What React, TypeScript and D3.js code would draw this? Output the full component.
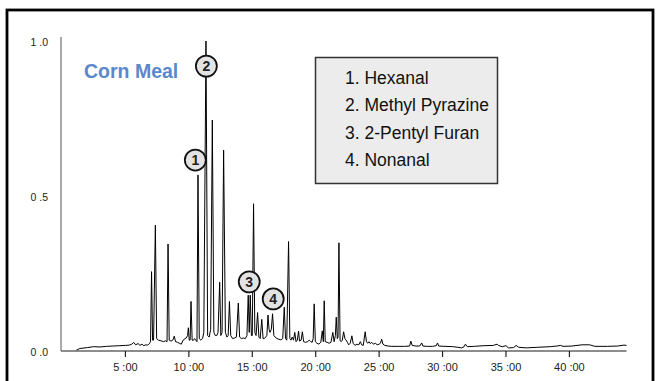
import { useEffect, useRef } from "react";
import * as d3 from "d3";

// retention time (min), relative intensity
const trace: [number, number][] = [
  [1.15, 0.003], [1.4, 0.008], [2.0, 0.011], [2.5, 0.014], [3.0, 0.013], [3.5, 0.015],
  [4.0, 0.016], [4.5, 0.017], [5.0, 0.018], [5.3, 0.019], [5.5, 0.022], [5.65, 0.028],
  [5.8, 0.02], [6.0, 0.024], [6.15, 0.018], [6.3, 0.022], [6.45, 0.017], [6.6, 0.02],
  [6.75, 0.019], [6.9, 0.024], [6.98, 0.03], [7.06, 0.256], [7.14, 0.035], [7.22, 0.035],
  [7.36, 0.406], [7.46, 0.04], [7.6, 0.035], [7.8, 0.033], [8.0, 0.03], [8.15, 0.033],
  [8.28, 0.03], [8.36, 0.345], [8.45, 0.035], [8.6, 0.032], [8.75, 0.036], [8.85, 0.048],
  [8.95, 0.03], [9.1, 0.028], [9.25, 0.025], [9.4, 0.022], [9.55, 0.035], [9.7, 0.04],
  [9.8, 0.042], [9.9, 0.05], [9.96, 0.075], [10.03, 0.035], [10.1, 0.035], [10.17, 0.16],
  [10.26, 0.035], [10.35, 0.034], [10.45, 0.04], [10.55, 0.035], [10.64, 0.03], [10.72, 0.568],
  [10.82, 0.04], [10.95, 0.035], [11.08, 0.04], [11.18, 0.06], [11.35, 1.0], [11.48, 0.05],
  [11.6, 0.045], [11.72, 0.07], [11.85, 0.745], [11.97, 0.06], [12.08, 0.05], [12.2, 0.05],
  [12.3, 0.06], [12.43, 0.222], [12.52, 0.05], [12.62, 0.06], [12.74, 0.648], [12.88, 0.06],
  [13.0, 0.045], [13.1, 0.05], [13.2, 0.16], [13.3, 0.05], [13.45, 0.04], [13.6, 0.042],
  [13.75, 0.045], [13.9, 0.155], [14.0, 0.045], [14.15, 0.04], [14.3, 0.042], [14.45, 0.04],
  [14.58, 0.05], [14.68, 0.18], [14.76, 0.06], [14.84, 0.18], [14.93, 0.05], [15.0, 0.05],
  [15.1, 0.475], [15.2, 0.06], [15.3, 0.05], [15.42, 0.124], [15.52, 0.045], [15.62, 0.04],
  [15.75, 0.102], [15.85, 0.04], [15.95, 0.04], [16.05, 0.045], [16.15, 0.05], [16.24, 0.116],
  [16.32, 0.07], [16.4, 0.06], [16.5, 0.07], [16.6, 0.12], [16.7, 0.05], [16.8, 0.045],
  [16.95, 0.04], [17.1, 0.038], [17.25, 0.036], [17.4, 0.04], [17.52, 0.141], [17.62, 0.04],
  [17.72, 0.035], [17.86, 0.353], [17.96, 0.04], [18.05, 0.035], [18.15, 0.045], [18.25, 0.035],
  [18.35, 0.06], [18.45, 0.03], [18.55, 0.035], [18.65, 0.064], [18.72, 0.032], [18.85, 0.035],
  [18.95, 0.062], [19.05, 0.03], [19.2, 0.028], [19.35, 0.03], [19.5, 0.035], [19.62, 0.03],
  [19.72, 0.028], [19.8, 0.04], [19.88, 0.152], [19.97, 0.03], [20.1, 0.025], [20.25, 0.022],
  [20.4, 0.028], [20.52, 0.065], [20.6, 0.03], [20.67, 0.162], [20.75, 0.03], [20.9, 0.028],
  [21.05, 0.025], [21.2, 0.028], [21.35, 0.06], [21.45, 0.03], [21.55, 0.05], [21.62, 0.109],
  [21.7, 0.04], [21.76, 0.045], [21.83, 0.349], [21.92, 0.035], [22.0, 0.03], [22.1, 0.035],
  [22.2, 0.062], [22.3, 0.04], [22.4, 0.035], [22.5, 0.028], [22.6, 0.02], [22.72, 0.025],
  [22.85, 0.049], [22.95, 0.025], [23.1, 0.018], [23.25, 0.022], [23.4, 0.02], [23.52, 0.03],
  [23.62, 0.02], [23.75, 0.018], [23.9, 0.062], [24.0, 0.03], [24.1, 0.025], [24.2, 0.03],
  [24.3, 0.024], [24.42, 0.028], [24.55, 0.022], [24.7, 0.025], [24.85, 0.02], [25.0, 0.022],
  [25.1, 0.025], [25.2, 0.038], [25.3, 0.022], [25.45, 0.018], [25.7, 0.016], [26.0, 0.015],
  [26.5, 0.015], [27.0, 0.015], [27.4, 0.016], [27.5, 0.032], [27.6, 0.018], [27.9, 0.016],
  [28.2, 0.016], [28.36, 0.026], [28.45, 0.016], [28.8, 0.015], [29.2, 0.015], [29.5, 0.017],
  [29.6, 0.026], [29.7, 0.016], [30.2, 0.015], [30.8, 0.014], [31.2, 0.012], [31.5, 0.01],
  [31.7, 0.014], [31.8, 0.022], [31.95, 0.014], [32.5, 0.015], [33.2, 0.017], [34.0, 0.018],
  [34.3, 0.022], [34.4, 0.018], [34.7, 0.014], [35.0, 0.017], [35.2, 0.01], [35.6, 0.011],
  [35.8, 0.018], [36.0, 0.012], [36.6, 0.01], [37.5, 0.012], [38.5, 0.014], [39.0, 0.016],
  [39.3, 0.018], [39.5, 0.015], [40.2, 0.016], [41.0, 0.02], [41.6, 0.02], [42.0, 0.015],
  [43.0, 0.015], [43.8, 0.016], [44.3, 0.019], [44.5, 0.018],
];

const compounds = ["Hexanal", "Methyl Pyrazine", "2-Pentyl Furan", "Nonanal"];
// marker centres (time, intensity) for numbered peaks
const markers: [number, number][] = [
  [10.51, 0.616],
  [11.38, 0.919],
  [14.76, 0.223],
  [16.65, 0.168],
];
const xTicks = [5, 10, 15, 20, 25, 30, 35, 40];
const yTicks = [0, 0.5, 1.0];
const sampleName = "Corn Meal";

export default function App() {
  const ref = useRef<SVGSVGElement>(null);

  useEffect(() => {
    const svg = d3.select(ref.current);
    svg.selectAll("*").remove();

    const x = d3.scaleLinear().domain([0, 44.5]).range([62, 626.5]);
    const y = d3.scaleLinear().domain([0, 1]).range([351, 41]);

    // outer frame
    svg
      .append("rect")
      .attr("x", 7)
      .attr("y", 10)
      .attr("width", 646)
      .attr("height", 380)
      .attr("fill", "white")
      .attr("stroke", "#000")
      .attr("stroke-width", 2.8);

    // axes
    svg
      .append("line")
      .attr("x1", 61)
      .attr("x2", 61)
      .attr("y1", 37)
      .attr("y2", y(0))
      .attr("stroke", "#555")
      .attr("stroke-width", 1);
    svg
      .append("line")
      .attr("x1", 61)
      .attr("x2", x(44.5))
      .attr("y1", y(0))
      .attr("y2", y(0))
      .attr("stroke", "#666")
      .attr("stroke-width", 1.5);

    svg
      .append("g")
      .selectAll("line")
      .data(xTicks)
      .join("line")
      .attr("x1", (d) => x(d))
      .attr("x2", (d) => x(d))
      .attr("y1", y(0))
      .attr("y2", y(0) + 6)
      .attr("stroke", "#222")
      .attr("stroke-width", 1.2);

    svg
      .append("g")
      .selectAll("text")
      .data(xTicks)
      .join("text")
      .attr("x", (d) => x(d))
      .attr("y", y(0) + 20)
      .attr("text-anchor", "middle")
      .attr("font-size", 11)
      .attr("fill", "#222")
      .text((d) => `${d} :00`);

    svg
      .append("g")
      .selectAll("text")
      .data(yTicks)
      .join("text")
      .attr("x", 48)
      .attr("y", (d) => y(d) + 5)
      .attr("text-anchor", "end")
      .attr("font-size", 10.5)
      .attr("fill", "#222")
      .text((d) => d.toFixed(1).replace(".", " ."));

    // chromatogram trace
    const line = d3
      .line<[number, number]>()
      .x((d) => x(d[0]))
      .y((d) => y(d[1]));
    svg
      .append("path")
      .attr("d", line(trace))
      .attr("fill", "none")
      .attr("stroke", "#000")
      .attr("stroke-width", 1)
      .attr("stroke-linejoin", "miter");

    // numbered peak markers
    const mk = svg
      .append("g")
      .selectAll("g")
      .data(markers)
      .join("g")
      .attr("transform", (d) => `translate(${x(d[0])},${y(d[1])})`);
    mk.append("circle")
      .attr("r", 10.5)
      .attr("fill", "#e3e3e3")
      .attr("stroke", "#111")
      .attr("stroke-width", 1.8);
    mk.append("text")
      .attr("text-anchor", "middle")
      .attr("dy", 5)
      .attr("font-size", 14)
      .attr("font-weight", "bold")
      .attr("fill", "#222")
      .text((d, i) => i + 1);

    // sample name
    svg
      .append("text")
      .attr("x", 84)
      .attr("y", 78)
      .attr("font-size", 19.5)
      .attr("font-weight", "bold")
      .attr("fill", "#5b88cc")
      .text(sampleName);

    // legend box
    svg
      .append("rect")
      .attr("x", 315.5)
      .attr("y", 57.5)
      .attr("width", 182)
      .attr("height", 126)
      .attr("fill", "#ececec")
      .attr("stroke", "#333")
      .attr("stroke-width", 1.5);
    svg
      .append("g")
      .selectAll("text")
      .data(compounds)
      .join("text")
      .attr("x", 345)
      .attr("y", (d, i) => 84 + i * 27.3)
      .attr("font-size", 17.5)
      .attr("fill", "#111")
      .text((d, i) => `${i + 1}. ${d}`);
  }, []);

  return (
    <div style={{ position: "fixed", left: 0, top: 0, width: 660, height: 381, background: "white" }}>
      <svg
        ref={ref}
        width={660}
        height={381}
        style={{ display: "block", fontFamily: "'Liberation Sans', Arial, sans-serif" }}
      />
    </div>
  );
}
